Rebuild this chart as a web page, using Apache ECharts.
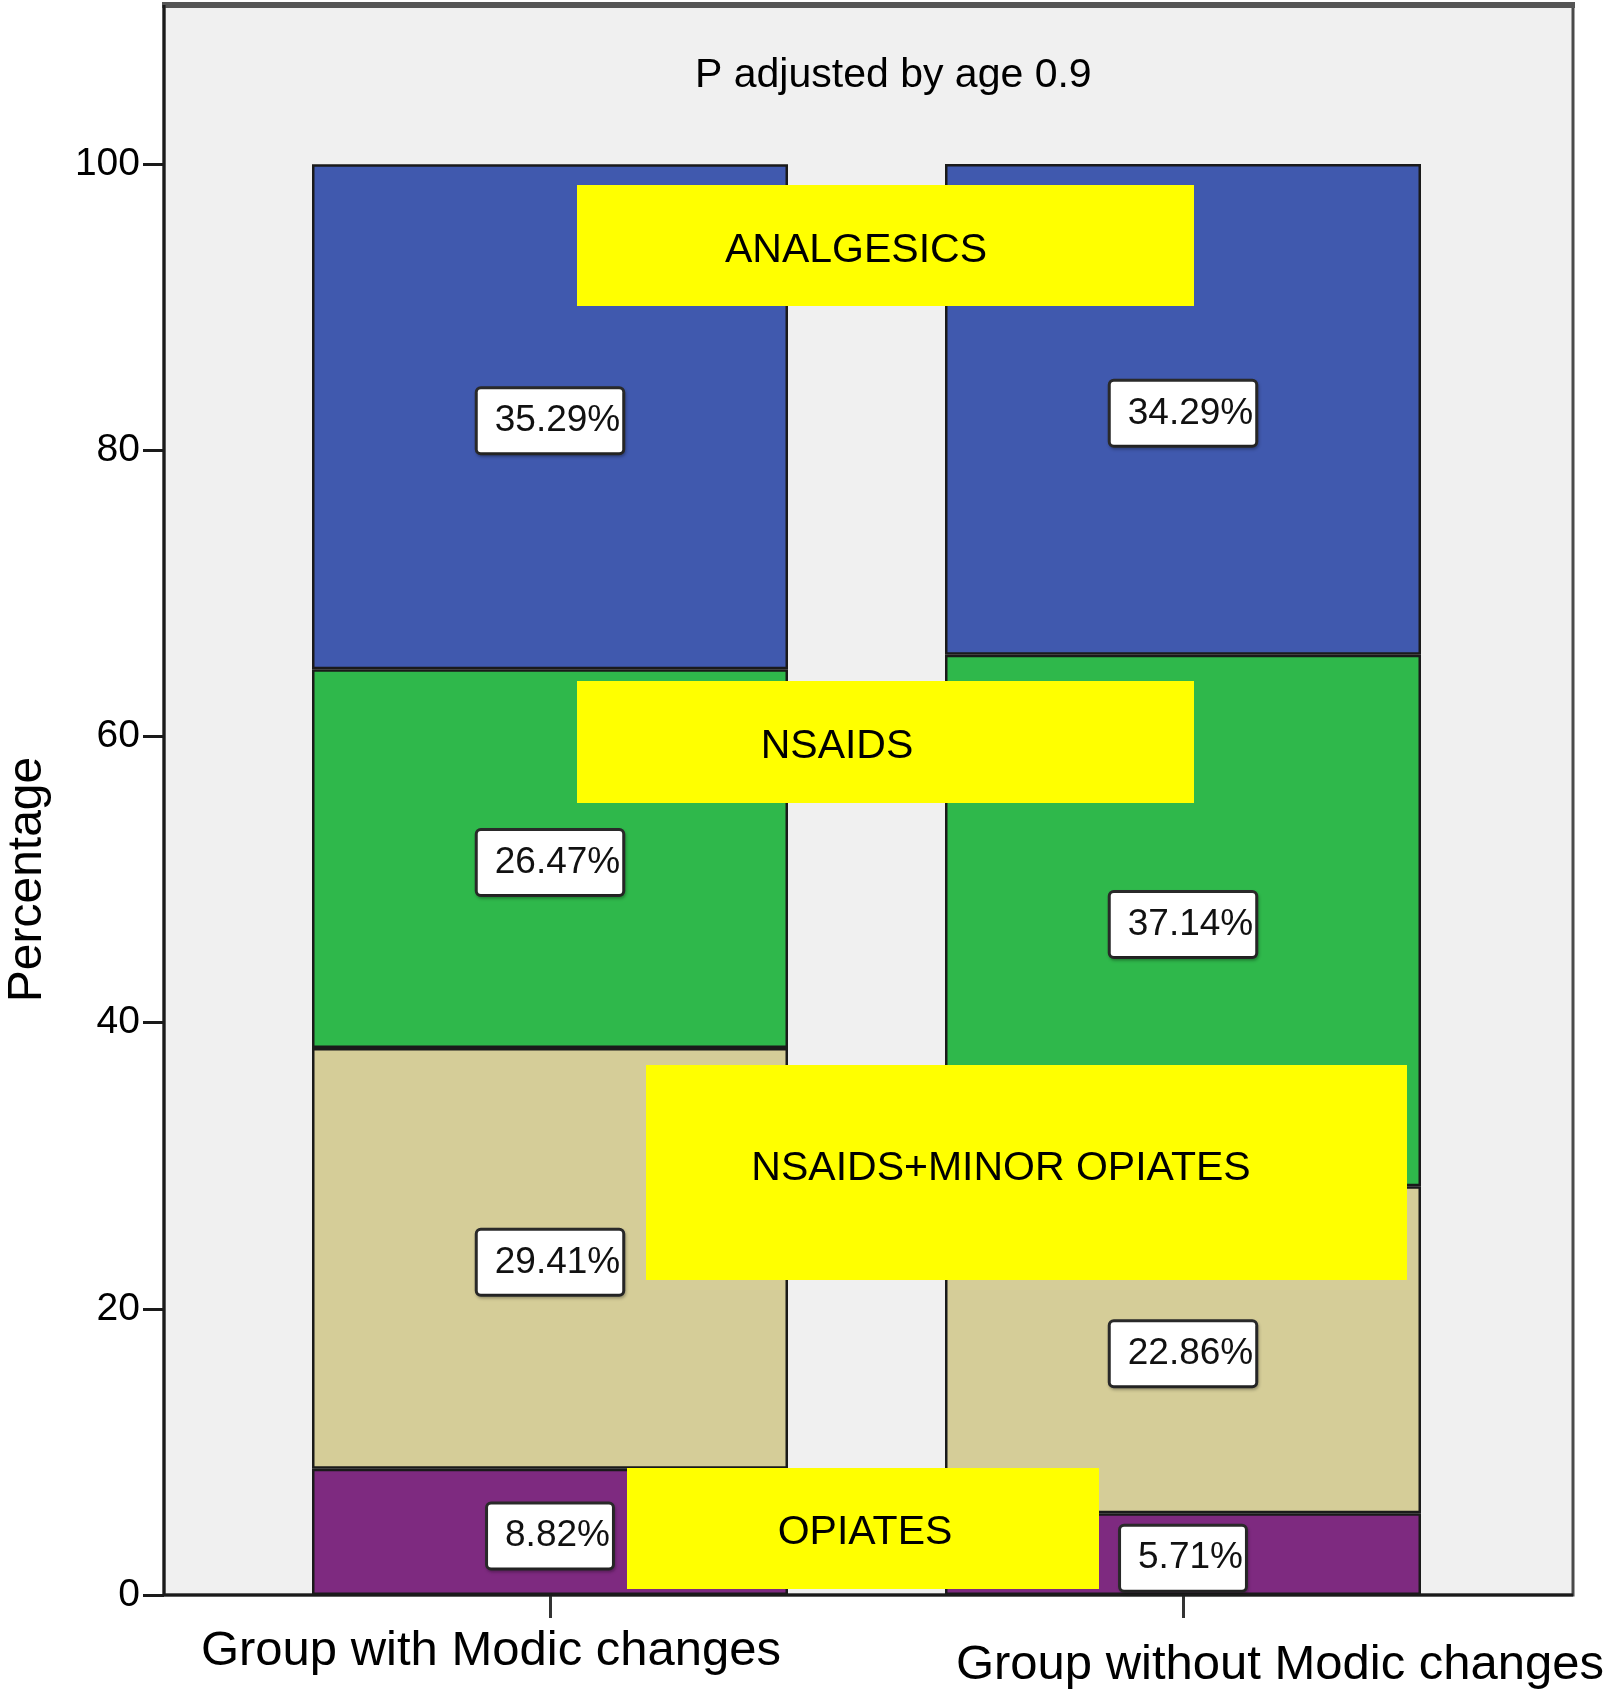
<!DOCTYPE html>
<html>
<head>
<meta charset="utf-8">
<script src="https://cdn.jsdelivr.net/npm/echarts@6/dist/echarts.min.js"></script>
<style>
html,body{margin:0;padding:0;background:#fff;}
#chart{width:1604px;height:1689px;}
</style>
</head>
<body>
<div id="chart"></div>
<script>
// ---- data ----
const categories = ['Group with Modic changes', 'Group without Modic changes'];
const seriesNames = ['OPIATES', 'NSAIDS+MINOR OPIATES', 'NSAIDS', 'ANALGESICS'];
const opiates = [8.82, 5.71];
const nsaidsMinorOpiates = [29.41, 22.86];
const nsaids = [26.47, 37.14];
const analgesics = [35.29, 34.29];
const yTicks = [0, 20, 40, 60, 80, 100];
const titleText = 'P adjusted by age 0.9';
const yAxisName = 'Percentage';
const annotationTexts = ['ANALGESICS', 'NSAIDS', 'NSAIDS+MINOR OPIATES', 'OPIATES'];

// ---- styles / layout ----
const colors = ['#7E2A80', '#D5CD98', '#2FB84B', '#4059AE'];
const FONT = 'Liberation Sans, Arial, Helvetica, sans-serif';
const frame = {x: 164, y: 5, w: 1409, h: 1590};
const annotationBoxes = [
  {x: 577, y: 185, w: 617, h: 121, tx: 856, ty: 251},
  {x: 577, y: 681, w: 617, h: 122, tx: 837, ty: 747},
  {x: 646, y: 1065, w: 761, h: 215, tx: 1001, ty: 1169},
  {x: 627, y: 1468, w: 472, h: 121, tx: 865, ty: 1533}
];

const chart = echarts.init(document.getElementById('chart'), null, {renderer: 'canvas'});

const valueSets = [opiates, nsaidsMinorOpiates, nsaids, analgesics];
const series = seriesNames.map((name, i) => ({
  name: name,
  type: 'bar',
  stack: 'total',
  barWidth: 476,
  data: valueSets[i],
  itemStyle: {color: colors[i], borderColor: '#1a1a1a', borderWidth: 2.5},
  label: {
    show: true,
    position: 'inside',
    offset: [0, 4],
    formatter: p => p.value.toFixed(2) + '%',
    fontFamily: FONT,
    fontSize: 37,
    color: '#111',
    backgroundColor: '#fff',
    borderColor: '#2a2a2a',
    borderWidth: 3,
    borderRadius: 3,
    padding: [14, 2, 12, 17],
    shadowColor: 'rgba(0,0,0,0.25)',
    shadowBlur: 3,
    shadowOffsetX: 1,
    shadowOffsetY: 2
  },
  emphasis: {disabled: true},
  z: 2
}));

const graphics = [
  {type: 'rect', z: -10, silent: true,
   shape: {x: frame.x, y: frame.y, width: frame.w, height: frame.h},
   style: {fill: '#F0F0F0', stroke: '#4a4a4a', lineWidth: 3}},
  {type: 'line', z: -9, silent: true,
   shape: {x1: frame.x - 2, y1: frame.y, x2: frame.x + frame.w + 2, y2: frame.y},
   style: {stroke: '#555', lineWidth: 6}},
  {type: 'line', z: 50, silent: true,
   shape: {x1: frame.x, y1: frame.y, x2: frame.x, y2: frame.y + frame.h},
   style: {stroke: '#1a1a1a', lineWidth: 3}},
  {type: 'line', z: 50, silent: true,
   shape: {x1: frame.x, y1: frame.y + frame.h, x2: frame.x + frame.w, y2: frame.y + frame.h},
   style: {stroke: '#1a1a1a', lineWidth: 3}}
];
annotationTexts.forEach((t, i) => {
  const b = annotationBoxes[i];
  graphics.push({type: 'rect', z: 40, silent: true,
    shape: {x: b.x, y: b.y, width: b.w, height: b.h},
    style: {fill: '#FFFF00'}});
  graphics.push({type: 'text', z: 41, silent: true,
    x: b.tx, y: b.ty,
    style: {text: t, fill: '#000', font: '41px ' + FONT, align: 'center', verticalAlign: 'middle'}});
});

chart.setOption({
  animation: false,
  backgroundColor: '#ffffff',
  title: {
    text: titleText,
    left: 690,
    top: 50,
    textStyle: {fontFamily: FONT, fontSize: 41, fontWeight: 'normal', color: '#000'}
  },
  grid: {left: 233.5, right: 104.5, top: 164, bottom: 94, containLabel: false, outerBoundsMode: 'none'},
  xAxis: {
    type: 'category',
    data: [
      {value: categories[0], textStyle: {padding: [0, 118, 0, 0]}},
      {value: categories[1], textStyle: {padding: [14, 0, 0, 194]}}
    ],
    axisLine: {show: false},
    axisTick: {show: true, alignWithLabel: true, length: 23, lineStyle: {color: '#333', width: 3}},
    axisLabel: {fontFamily: FONT, fontSize: 49, color: '#000', margin: 32, interval: 0}
  },
  yAxis: {
    type: 'value',
    min: 0,
    max: 100,
    interval: 20,
    offset: 69.5,
    name: yAxisName,
    nameLocation: 'middle',
    nameRotate: 90,
    nameGap: 112,
    nameTextStyle: {fontFamily: FONT, fontSize: 48, color: '#000'},
    axisLine: {show: false},
    axisTick: {show: true, length: 21, lineStyle: {color: '#1a1a1a', width: 3}},
    axisLabel: {fontFamily: FONT, fontSize: 39, color: '#000', margin: 24,
      formatter: v => yTicks.indexOf(v) >= 0 ? String(v) : ''},
    splitLine: {show: false}
  },
  series: series,
  graphic: graphics
});
</script>
</body>
</html>
